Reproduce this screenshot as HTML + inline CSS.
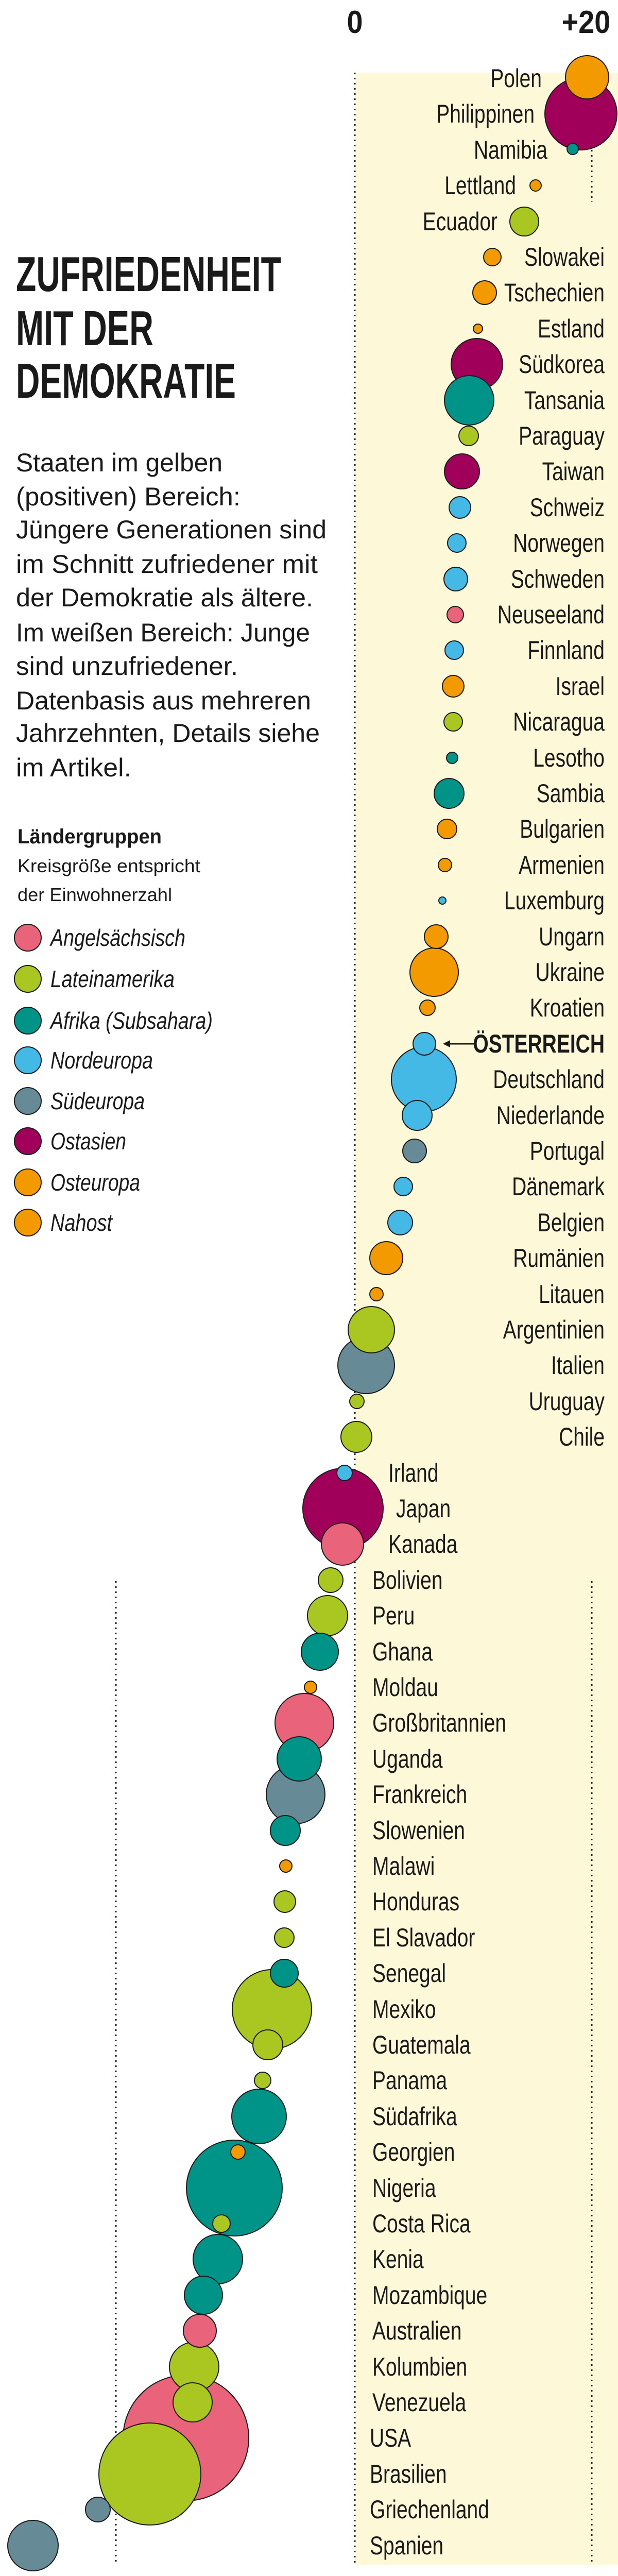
<!DOCTYPE html>
<html><head><meta charset="utf-8"><style>
html,body{margin:0;padding:0;background:#fff;width:1200px;height:5132px;overflow:hidden;position:relative}
svg{display:block;position:absolute;left:0;top:0}
text{font-family:"Liberation Sans",sans-serif;fill:#1a1a1a}
.l{font-size:50px}
.c circle{stroke:#1a1a1a;stroke-width:2}
.E{fill:#e9637b}.L{fill:#a9c720}.F{fill:#009488}.N{fill:#44b9e6}.S{fill:#668a96}.A{fill:#a0005a}.O{fill:#f29a00}
</style></head><body>
<svg width="1200" height="5132" viewBox="0 0 1200 5132" xmlns="http://www.w3.org/2000/svg">
<rect x="689" y="141" width="511" height="4837" fill="#fdf8d8"/>
<g stroke="#1a1a1a" stroke-width="3" stroke-dasharray="3 7" fill="none">
<line x1="689" y1="141" x2="689" y2="4978"/>
<line x1="1149" y1="141" x2="1149" y2="392"/>
<line x1="1149" y1="3069" x2="1149" y2="4978"/>
<line x1="225" y1="3069" x2="225" y2="4978"/>
</g>
<g font-weight="bold" font-size="62" text-anchor="middle">
<text transform="translate(689,64) scale(0.9,1)">0</text>
<text transform="translate(1138,64) scale(0.9,1)">+20</text>
<text transform="translate(689,5058) scale(0.9,1)">0</text>
<text transform="translate(1138,5058) scale(0.9,1)">+20</text>
<text transform="translate(222,5058) scale(0.9,1)">−20</text>
</g>
<g font-weight="bold" font-size="96">
<text x="31" y="565" textLength="515" lengthAdjust="spacingAndGlyphs">ZUFRIEDENHEIT</text>
<text x="31" y="670" textLength="267" lengthAdjust="spacingAndGlyphs">MIT DER</text>
<text x="31" y="772" textLength="427" lengthAdjust="spacingAndGlyphs">DEMOKRATIE</text>
</g>
<g font-size="50">
<text x="31" y="915" textLength="401" lengthAdjust="spacingAndGlyphs">Staaten im gelben</text>
<text x="31" y="981" textLength="436" lengthAdjust="spacingAndGlyphs">(positiven) Bereich:</text>
<text x="31" y="1045" textLength="603" lengthAdjust="spacingAndGlyphs">Jüngere Generationen sind</text>
<text x="31" y="1112" textLength="586" lengthAdjust="spacingAndGlyphs">im Schnitt zufriedener mit</text>
<text x="31" y="1177" textLength="577" lengthAdjust="spacingAndGlyphs">der Demokratie als ältere.</text>
<text x="31" y="1245" textLength="571" lengthAdjust="spacingAndGlyphs">Im weißen Bereich: Junge</text>
<text x="31" y="1310" textLength="431" lengthAdjust="spacingAndGlyphs">sind unzufriedener.</text>
<text x="31" y="1377" textLength="573" lengthAdjust="spacingAndGlyphs">Datenbasis aus mehreren</text>
<text x="31" y="1440" textLength="590" lengthAdjust="spacingAndGlyphs">Jahrzehnten, Details siehe</text>
<text x="31" y="1507" textLength="224" lengthAdjust="spacingAndGlyphs">im Artikel.</text>
</g>
<text x="34" y="1637" font-size="40" font-weight="bold" textLength="280" lengthAdjust="spacingAndGlyphs">Ländergruppen</text>
<text x="34" y="1693" font-size="36" textLength="355" lengthAdjust="spacingAndGlyphs">Kreisgröße entspricht</text>
<text x="34" y="1749" font-size="36" textLength="300" lengthAdjust="spacingAndGlyphs">der Einwohnerzahl</text>
<g class="c">
<circle class="E" cx="54" cy="1820" r="26"/><circle class="L" cx="54" cy="1900" r="26"/>
<circle class="F" cx="54" cy="1981" r="26"/><circle class="N" cx="54" cy="2058" r="26"/>
<circle class="S" cx="54" cy="2137" r="26"/><circle class="A" cx="54" cy="2215" r="26"/>
<circle class="O" cx="54" cy="2295" r="26"/><circle class="O" cx="54" cy="2373" r="26"/>
</g>
<g font-size="46" font-style="italic">
<text x="98" y="1836" textLength="262" lengthAdjust="spacingAndGlyphs">Angelsächsisch</text>
<text x="98" y="1916" textLength="241" lengthAdjust="spacingAndGlyphs">Lateinamerika</text>
<text x="98" y="1997" textLength="315" lengthAdjust="spacingAndGlyphs">Afrika (Subsahara)</text>
<text x="98" y="2074" textLength="199" lengthAdjust="spacingAndGlyphs">Nordeuropa</text>
<text x="98" y="2153" textLength="183" lengthAdjust="spacingAndGlyphs">Südeuropa</text>
<text x="98" y="2231" textLength="147" lengthAdjust="spacingAndGlyphs">Ostasien</text>
<text x="98" y="2311" textLength="174" lengthAdjust="spacingAndGlyphs">Osteuropa</text>
<text x="98" y="2389" textLength="120" lengthAdjust="spacingAndGlyphs">Nahost</text>
</g>
<text x="31" y="5118" font-size="36" textLength="1057" lengthAdjust="spacingAndGlyphs">Quelle: Centre for the Future of Democracy · Grafik: „Die Presse“ · GK</text>

<g class="c">
<circle class="F" cx="455" cy="4247" r="93"/>
<circle class="E" cx="361" cy="4732" r="122"/>
<circle class="L" cx="291" cy="4802" r="99"/>
<circle class="A" cx="666" cy="2928" r="78"/>
<circle class="L" cx="528" cy="3900" r="77"/>
<circle class="A" cx="1128" cy="221" r="70"/>
<circle class="N" cx="823" cy="2095" r="63"/>
<circle class="E" cx="591" cy="3344" r="57"/>
<circle class="S" cx="574" cy="3483" r="57"/>
<circle class="S" cx="711" cy="2650" r="55"/>
<circle class="F" cx="503" cy="4108" r="53"/>
<circle class="A" cx="926" cy="707" r="50"/>
<circle class="S" cx="64" cy="4941" r="49"/>
<circle class="F" cx="911" cy="777" r="48"/>
<circle class="F" cx="423" cy="4385" r="48"/>
<circle class="L" cx="377" cy="4594" r="48"/>
<circle class="O" cx="843" cy="1887" r="47"/>
<circle class="L" cx="721" cy="2581" r="45"/>
<circle class="F" cx="581" cy="3414" r="43"/>
<circle class="O" cx="1140" cy="150" r="42"/>
<circle class="E" cx="665" cy="2997" r="41"/>
<circle class="L" cx="636" cy="3136" r="39"/>
<circle class="L" cx="374" cy="4663" r="38"/>
<circle class="F" cx="395" cy="4455" r="37"/>
<circle class="F" cx="621" cy="3206" r="36"/>
<circle class="A" cx="897" cy="915" r="34"/>
<circle class="O" cx="750" cy="2442" r="32"/>
<circle class="E" cx="388" cy="4524" r="32"/>
<circle class="L" cx="692" cy="2789" r="30"/>
<circle class="F" cx="872" cy="1540" r="29"/>
<circle class="N" cx="810" cy="2165" r="29"/>
<circle class="F" cx="554" cy="3553" r="29"/>
<circle class="L" cx="520" cy="3969" r="29"/>
<circle class="L" cx="1018" cy="430" r="28"/>
<circle class="F" cx="552" cy="3830" r="27"/>
<circle class="N" cx="777" cy="2373" r="24"/>
<circle class="L" cx="642" cy="3067" r="24"/>
<circle class="S" cx="190" cy="4871" r="24"/>
<circle class="O" cx="941" cy="568" r="23"/>
<circle class="N" cx="885" cy="1124" r="23"/>
<circle class="O" cx="847" cy="1818" r="23"/>
<circle class="S" cx="805" cy="2234" r="23"/>
<circle class="N" cx="824" cy="2026" r="22"/>
<circle class="N" cx="893" cy="985" r="21"/>
<circle class="O" cx="880" cy="1332" r="21"/>
<circle class="L" cx="553" cy="3691" r="21"/>
<circle class="L" cx="910" cy="846" r="19"/>
<circle class="O" cx="868" cy="1609" r="19"/>
<circle class="L" cx="552" cy="3761" r="19"/>
<circle class="N" cx="887" cy="1054" r="18"/>
<circle class="N" cx="882" cy="1262" r="18"/>
<circle class="L" cx="880" cy="1401" r="18"/>
<circle class="N" cx="783" cy="2303" r="18"/>
<circle class="O" cx="956" cy="499" r="17"/>
<circle class="L" cx="430" cy="4316" r="17"/>
<circle class="E" cx="884" cy="1193" r="16"/>
<circle class="L" cx="510" cy="4038" r="16"/>
<circle class="O" cx="830" cy="1956" r="15"/>
<circle class="N" cx="669" cy="2859" r="15"/>
<circle class="L" cx="693" cy="2720" r="14"/>
<circle class="O" cx="462" cy="4177" r="14"/>
<circle class="O" cx="864" cy="1679" r="13"/>
<circle class="O" cx="731" cy="2512" r="13"/>
<circle class="O" cx="603" cy="3275" r="12"/>
<circle class="O" cx="555" cy="3622" r="12"/>
<circle class="F" cx="1112" cy="289" r="11"/>
<circle class="O" cx="1040" cy="360" r="11"/>
<circle class="F" cx="878" cy="1471" r="11"/>
<circle class="O" cx="928" cy="638" r="9"/>
<circle class="N" cx="859" cy="1748" r="7"/>
</g>

<line x1="868" y1="2026" x2="922" y2="2026" stroke="#1a1a1a" stroke-width="3"/>
<polygon points="860,2026 874,2019 874,2033" fill="#1a1a1a"/>

<g class="l" text-anchor="end">
<text transform="translate(1052,169) scale(0.78,1)">Polen</text>
<text transform="translate(1038,238) scale(0.78,1)">Philippinen</text>
<text transform="translate(1063,308) scale(0.78,1)">Namibia</text>
<text transform="translate(1002,377) scale(0.78,1)">Lettland</text>
<text transform="translate(966,447) scale(0.78,1)">Ecuador</text>
<text transform="translate(1174,516) scale(0.78,1)">Slowakei</text>
<text transform="translate(1174,585) scale(0.78,1)">Tschechien</text>
<text transform="translate(1174,655) scale(0.78,1)">Estland</text>
<text transform="translate(1174,724) scale(0.78,1)">Südkorea</text>
<text transform="translate(1174,794) scale(0.78,1)">Tansania</text>
<text transform="translate(1174,863) scale(0.78,1)">Paraguay</text>
<text transform="translate(1174,932) scale(0.78,1)">Taiwan</text>
<text transform="translate(1174,1002) scale(0.78,1)">Schweiz</text>
<text transform="translate(1174,1071) scale(0.78,1)">Norwegen</text>
<text transform="translate(1174,1141) scale(0.78,1)">Schweden</text>
<text transform="translate(1174,1210) scale(0.78,1)">Neuseeland</text>
<text transform="translate(1174,1279) scale(0.78,1)">Finnland</text>
<text transform="translate(1174,1349) scale(0.78,1)">Israel</text>
<text transform="translate(1174,1418) scale(0.78,1)">Nicaragua</text>
<text transform="translate(1174,1488) scale(0.78,1)">Lesotho</text>
<text transform="translate(1174,1557) scale(0.78,1)">Sambia</text>
<text transform="translate(1174,1626) scale(0.78,1)">Bulgarien</text>
<text transform="translate(1174,1696) scale(0.78,1)">Armenien</text>
<text transform="translate(1174,1765) scale(0.78,1)">Luxemburg</text>
<text transform="translate(1174,1835) scale(0.78,1)">Ungarn</text>
<text transform="translate(1174,1904) scale(0.78,1)">Ukraine</text>
<text transform="translate(1174,1973) scale(0.78,1)">Kroatien</text>
<text transform="translate(1174,2043) scale(0.78,1)" font-weight="bold">ÖSTERREICH</text>
<text transform="translate(1174,2112) scale(0.78,1)">Deutschland</text>
<text transform="translate(1174,2182) scale(0.78,1)">Niederlande</text>
<text transform="translate(1174,2251) scale(0.78,1)">Portugal</text>
<text transform="translate(1174,2320) scale(0.78,1)">Dänemark</text>
<text transform="translate(1174,2390) scale(0.78,1)">Belgien</text>
<text transform="translate(1174,2459) scale(0.78,1)">Rumänien</text>
<text transform="translate(1174,2529) scale(0.78,1)">Litauen</text>
<text transform="translate(1174,2598) scale(0.78,1)">Argentinien</text>
<text transform="translate(1174,2667) scale(0.78,1)">Italien</text>
<text transform="translate(1174,2737) scale(0.78,1)">Uruguay</text>
<text transform="translate(1174,2806) scale(0.78,1)">Chile</text>
</g>
<g class="l">
<text transform="translate(754,2876) scale(0.78,1)">Irland</text>
<text transform="translate(769,2945) scale(0.78,1)">Japan</text>
<text transform="translate(754,3014) scale(0.78,1)">Kanada</text>
<text transform="translate(723,3084) scale(0.78,1)">Bolivien</text>
<text transform="translate(723,3153) scale(0.78,1)">Peru</text>
<text transform="translate(723,3223) scale(0.78,1)">Ghana</text>
<text transform="translate(723,3292) scale(0.78,1)">Moldau</text>
<text transform="translate(723,3361) scale(0.78,1)">Großbritannien</text>
<text transform="translate(723,3431) scale(0.78,1)">Uganda</text>
<text transform="translate(723,3500) scale(0.78,1)">Frankreich</text>
<text transform="translate(723,3570) scale(0.78,1)">Slowenien</text>
<text transform="translate(723,3639) scale(0.78,1)">Malawi</text>
<text transform="translate(723,3708) scale(0.78,1)">Honduras</text>
<text transform="translate(723,3778) scale(0.78,1)">El Slavador</text>
<text transform="translate(723,3847) scale(0.78,1)">Senegal</text>
<text transform="translate(723,3917) scale(0.78,1)">Mexiko</text>
<text transform="translate(723,3986) scale(0.78,1)">Guatemala</text>
<text transform="translate(723,4055) scale(0.78,1)">Panama</text>
<text transform="translate(723,4125) scale(0.78,1)">Südafrika</text>
<text transform="translate(723,4194) scale(0.78,1)">Georgien</text>
<text transform="translate(723,4264) scale(0.78,1)">Nigeria</text>
<text transform="translate(723,4333) scale(0.78,1)">Costa Rica</text>
<text transform="translate(723,4402) scale(0.78,1)">Kenia</text>
<text transform="translate(723,4472) scale(0.78,1)">Mozambique</text>
<text transform="translate(723,4541) scale(0.78,1)">Australien</text>
<text transform="translate(723,4611) scale(0.78,1)">Kolumbien</text>
<text transform="translate(723,4680) scale(0.78,1)">Venezuela</text>
<text transform="translate(718,4749) scale(0.78,1)">USA</text>
<text transform="translate(718,4819) scale(0.78,1)">Brasilien</text>
<text transform="translate(718,4888) scale(0.78,1)">Griechenland</text>
<text transform="translate(718,4958) scale(0.78,1)">Spanien</text>
</g>
</svg>
</body></html>
